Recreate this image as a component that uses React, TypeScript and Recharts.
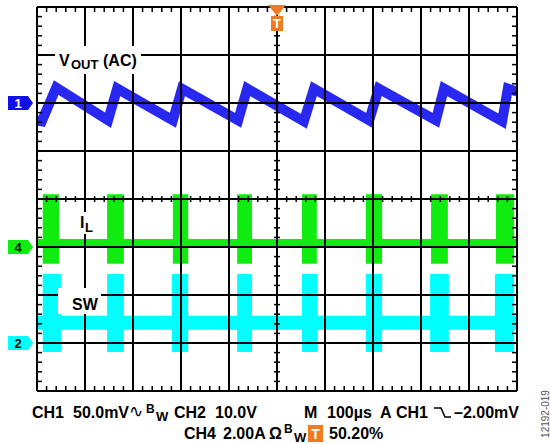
import React from 'react';
import {
  ComposedChart,
  Line,
  Scatter,
  XAxis,
  YAxis,
  ReferenceArea,
  ReferenceLine,
  ReferenceDot,
} from 'recharts';

const WIDTH = 550;
const HEIGHT = 444;
const MARGIN = { top: 7, right: 33, bottom: 53, left: 37 };
const FONT = '"Liberation Sans", Arial, Helvetica, sans-serif';

// horizontal: time in µs (M 100µs/div, 10 divisions)
const gridTimes = [0, 100, 200, 300, 400, 500, 600, 700, 800, 900, 1000];
// vertical: screen divisions
const gridDivs = [-4, -3, -2, -1, 0, 1, 2, 3, 4];
// graticule minor marks, 5 per division
const minorTimes = Array.from({ length: 51 }, (_, i) => i * 20);
const minorDivs = Array.from({ length: 41 }, (_, i) => -4 + i * 0.2);

// CH1: VOUT (AC), mV — 50mV/div, ground marker 2 div above centre
const vTime = [0, 10, 40, 148, 167, 283, 302, 419, 438, 556, 577, 692, 712, 831, 848, 969, 981, 1000];
const vOut = [-18, -19, 16, -18, 15, -18, 15, -18, 15, -19, 15, -18, 15, -18, 15, -19, 15, 12];

// CH4: IL, A — 2A/div, marker 1 div below centre
const ilBase = 0.15;
const ilPulseStart = [12, 146, 283, 417, 552, 685, 821, 956];
const ilPulseEnd = [46, 181, 315, 448, 583, 719, 856, 994];
const ilPulseHigh = 2.2;
const ilPulseLow = -0.7;

// CH2: SW, V — 10V/div, marker 3 div below centre
const swBase = 4.2;
const swPulseStart = [12, 146, 281, 417, 552, 685, 819, 954];
const swPulseEnd = [50, 181, 315, 448, 585, 719, 858, 994];
const swPulseHigh = 14.4;
const swPulseLow = -1.9;

const BLUE = '#2828f0';
const GREEN = '#10ec10';
const CYAN = '#00ffff';
const ORANGE = '#f07a1e';

const vData = vTime.map((t, i) => ({ t, v: vOut[i] }));
const ilData = [{ t: 0, v: ilBase }, { t: 1000, v: ilBase }];
const swData = [{ t: 0, v: swBase }, { t: 1000, v: swBase }];

const ChannelTag = (props: any) => {
  const { cx, cy, label, fill, textFill } = props;
  return (
    <g>
      <path
        d={`M${cx - 29},${cy - 7} H${cx - 9} L${cx - 4},${cy} L${cx - 9},${cy + 7} H${cx - 29} Z`}
        fill={fill}
      />
      <text x={cx - 19} y={cy + 5} textAnchor="middle" fontSize={13} fontWeight="bold" fill={textFill} fontFamily={FONT}>
        {label}
      </text>
    </g>
  );
};

const TriggerTag = (props: any) => {
  const { cx, cy } = props;
  return (
    <g>
      <path d={`M${cx - 9},${cy - 2} H${cx + 9} L${cx},${cy + 9} Z`} fill={ORANGE} />
      <rect x={cx - 6} y={cy + 9} width={12} height={15} fill={ORANGE} />
      <text x={cx} y={cy + 21} textAnchor="middle" fontSize={13} fontWeight="bold" fill="#fff" fontFamily={FONT}>
        T
      </text>
    </g>
  );
};

const tick = (dx1: number, dy1: number, dx2: number, dy2: number) => (p: any) => (
  <line x1={p.cx + dx1} y1={p.cy + dy1} x2={p.cx + dx2} y2={p.cy + dy2} stroke="#000" strokeWidth={1.5} />
);

const Txt = ({ x, y, size = 16, children, weight = 'bold', anchor = 'start' }: any) => (
  <text x={x} y={y} fontSize={size} fontWeight={weight} fontFamily={FONT} fill="#000" textAnchor={anchor}>
    {children}
  </text>
);

export default function App() {
  return (
    <div style={{ position: 'absolute', left: 0, top: 0, width: WIDTH, height: HEIGHT, background: '#fff' }}>
      <div style={{ position: 'absolute', left: 0, top: 0 }}>
        <ComposedChart width={WIDTH} height={HEIGHT} margin={MARGIN}>
          <XAxis dataKey="t" type="number" domain={[0, 1000]} hide allowDataOverflow />
          <YAxis yAxisId="ch1" type="number" domain={[-300, 100]} hide />
          <YAxis yAxisId="ch4" type="number" domain={[-6, 10]} hide />
          <YAxis yAxisId="ch2" type="number" domain={[-10, 70]} hide />
          {swPulseStart.map((s, i) => (
            <ReferenceArea
              key={`sw${i}`}
              yAxisId="ch2"
              x1={s}
              x2={swPulseEnd[i]}
              y1={swPulseLow}
              y2={swPulseHigh}
              fill={CYAN}
              fillOpacity={1}
              stroke="none"
            />
          ))}
          <Line data={swData} dataKey="v" yAxisId="ch2" stroke={CYAN} strokeWidth={14} dot={false} isAnimationActive={false} />
          {ilPulseStart.map((s, i) => (
            <ReferenceArea
              key={`il${i}`}
              yAxisId="ch4"
              x1={s}
              x2={ilPulseEnd[i]}
              y1={ilPulseLow}
              y2={ilPulseHigh}
              fill={GREEN}
              fillOpacity={1}
              stroke="none"
            />
          ))}
          <Line data={ilData} dataKey="v" yAxisId="ch4" stroke={GREEN} strokeWidth={9} dot={false} isAnimationActive={false} />
          <Line
            data={vData}
            dataKey="v"
            yAxisId="ch1"
            stroke={BLUE}
            strokeWidth={10}
            strokeLinejoin="miter"
            strokeMiterlimit={3}
            dot={false}
            isAnimationActive={false}
          />
          <ReferenceDot x={0} y={0} yAxisId="ch1" ifOverflow="visible" shape={(p: any) => <ChannelTag {...p} label="1" fill="#1010e8" textFill="#fff" />} />
          <ReferenceDot x={0} y={0} yAxisId="ch4" ifOverflow="visible" shape={(p: any) => <ChannelTag {...p} label="4" fill={GREEN} textFill="#000" />} />
          <ReferenceDot x={0} y={0} yAxisId="ch2" ifOverflow="visible" shape={(p: any) => <ChannelTag {...p} label="2" fill={CYAN} textFill="#000" />} />
        </ComposedChart>
      </div>

      <div style={{ position: 'absolute', left: 0, top: 0 }}>
        <ComposedChart width={WIDTH} height={HEIGHT} margin={MARGIN}>
          <XAxis dataKey="t" type="number" domain={[0, 1000]} hide allowDataOverflow />
          <YAxis dataKey="d" type="number" domain={[-4, 4]} hide allowDataOverflow />
          {gridTimes.map((t) => (
            <ReferenceLine key={`gx${t}`} x={t} stroke="#000" strokeWidth={2} ifOverflow="visible" />
          ))}
          {gridDivs.map((d) => (
            <ReferenceLine key={`gy${d}`} y={d} stroke="#000" strokeWidth={2} ifOverflow="visible" />
          ))}
          <Scatter data={minorTimes.map((t) => ({ t, d: 4 }))} shape={tick(0, 0, 0, 5)} isAnimationActive={false} />
          <Scatter data={minorTimes.map((t) => ({ t, d: -4 }))} shape={tick(0, -5, 0, 0)} isAnimationActive={false} />
          <Scatter data={minorTimes.map((t) => ({ t, d: 0 }))} shape={tick(0, -3, 0, 3)} isAnimationActive={false} />
          <Scatter data={minorDivs.map((d) => ({ t: 0, d }))} shape={tick(0, 0, 5, 0)} isAnimationActive={false} />
          <Scatter data={minorDivs.map((d) => ({ t: 1000, d }))} shape={tick(-5, 0, 0, 0)} isAnimationActive={false} />
          <Scatter data={minorDivs.map((d) => ({ t: 500, d }))} shape={tick(-3, 0, 3, 0)} isAnimationActive={false} />
          <ReferenceDot x={500} y={4} ifOverflow="visible" shape={(p: any) => <TriggerTag {...p} />} />
        </ComposedChart>
      </div>

      <svg width={WIDTH} height={HEIGHT} style={{ position: 'absolute', left: 0, top: 0 }}>
        {/* trace labels */}
        <rect x={55} y={46} width={86} height={28} fill="#fff" />
        <Txt x={59} y={66}>V</Txt>
        <Txt x={71} y={69} size={13}>OUT</Txt>
        <Txt x={103} y={66}>(AC)</Txt>

        <rect x={77} y={212} width={18} height={22} fill="#fff" />
        <Txt x={80} y={228}>I</Txt>
        <Txt x={85} y={232} size={13}>L</Txt>

        <rect x={58} y={288} width={43} height={26} fill="#fff" />
        <Txt x={72} y={310}>SW</Txt>

        {/* scope readout, line 1 */}
        <Txt x={32} y={418}>CH1</Txt>
        <Txt x={73} y={418}>50.0mV</Txt>
        <text x={129} y={417} fontSize={17} fontFamily='"DejaVu Sans", sans-serif'>∿</text>
        <Txt x={146} y={413} size={12}>B</Txt>
        <Txt x={156} y={421} size={13}>W</Txt>
        <Txt x={174} y={418}>CH2</Txt>
        <Txt x={215} y={418}>10.0V</Txt>
        <Txt x={304} y={418}>M</Txt>
        <Txt x={327} y={418}>100µs</Txt>
        <Txt x={380} y={418}>A</Txt>
        <Txt x={396} y={418}>CH1</Txt>
        <path d="M434,408 H441 L445,417 H451" stroke="#000" strokeWidth={1.5} fill="none" />
        <Txt x={454} y={418}>–2.00mV</Txt>

        {/* line 2 */}
        <Txt x={184} y={439}>CH4</Txt>
        <Txt x={223} y={439}>2.00A</Txt>
        <Txt x={269} y={439}>Ω</Txt>
        <Txt x={284} y={433} size={12}>B</Txt>
        <Txt x={294} y={442} size={13}>W</Txt>
        <rect x={308} y={425} width={15} height={17} fill={ORANGE} />
        <Txt x={315.5} y={439} size={14} anchor="middle">
          <tspan fill="#fff">T</tspan>
        </Txt>
        <Txt x={329} y={439}>50.20%</Txt>

        <text
          x={549}
          y={414}
          transform="rotate(-90 549 414)"
          textAnchor="middle"
          fontSize={10}
          fontFamily={FONT}
          fill="#555"
        >
          12192-019
        </text>
      </svg>
    </div>
  );
}
